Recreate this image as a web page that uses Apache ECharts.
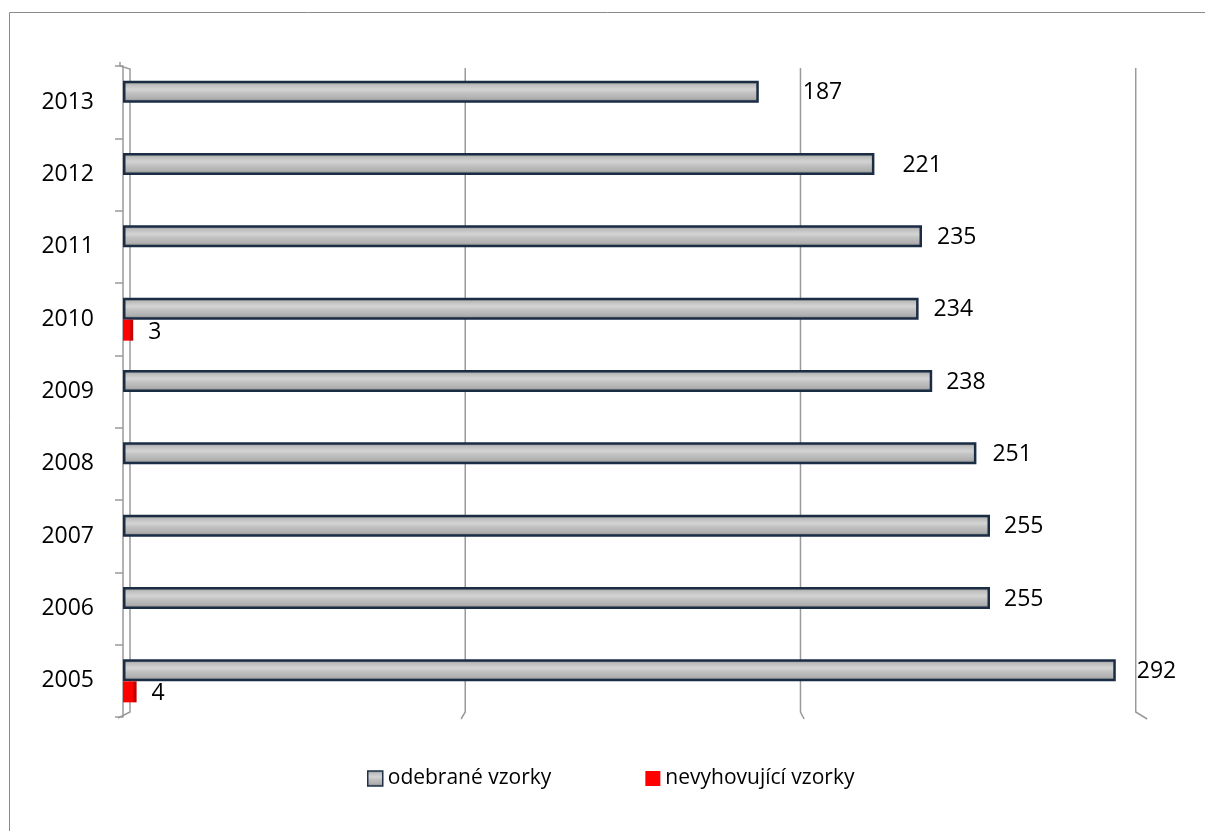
<!DOCTYPE html>
<html>
<head>
<meta charset="utf-8">
<script src="https://cdn.jsdelivr.net/npm/echarts@6/dist/echarts.min.js"></script>
<style>
html,body{margin:0;padding:0;background:#fff;}
#chart{width:1205px;height:831px;}
</style>
</head>
<body>
<div id="chart"></div>
<script>
// ---- data ----
var years = ['2005','2006','2007','2008','2009','2010','2011','2012','2013'];
var odebrane = [292, 255, 255, 251, 238, 234, 235, 221, 187];
var nevyhovujici = [4, 0, 0, 0, 0, 3, 0, 0, 0];
var xTicks = [0, 100, 200, 300];
var seriesNames = ['odebrané vzorky', 'nevyhovující vzorky'];

// ---- style (label gaps per bar, mimicking the original placement) ----
var grayLabelGap = [22, 15, 15, 17, 15, 16, 16, 29, 45];

var FONT = '"Open Sans", sans-serif';
var grayFill = new echarts.graphic.LinearGradient(0, 0, 0, 1, [
  {offset: 0, color: '#858585'},
  {offset: 0.18, color: '#bdbdbd'},
  {offset: 0.4, color: '#d4d4d4'},
  {offset: 0.55, color: '#c2c2c2'},
  {offset: 0.8, color: '#b0b0b0'},
  {offset: 1, color: '#808080'}
]);
var redFill = new echarts.graphic.LinearGradient(0, 0, 1, 0, [
  {offset: 0, color: '#ff0000'},
  {offset: 0.72, color: '#ff0000'},
  {offset: 0.74, color: '#d00000'},
  {offset: 1, color: '#b80000'}
]);

var chart = echarts.init(document.getElementById('chart'));
var option = {
  animation: false,
  backgroundColor: '#ffffff',
  grid: {left: 123, right: 62, top: 66, bottom: 114, containLabel: false},
  legend: {
    left: 367, top: 768, padding: 0,
    itemWidth: 15, itemHeight: 15, itemGap: 94,
    textStyle: {fontFamily: FONT, fontSize: 21, color: '#000'},
    data: [
      {name: seriesNames[0], icon: 'rect', itemStyle: {color: grayFill, borderColor: '#1f3147', borderWidth: 1.5}},
      {name: seriesNames[1], icon: 'rect', itemStyle: {color: '#ff0000', borderWidth: 0}}
    ]
  },
  xAxis: {
    type: 'value', min: xTicks[0], max: xTicks[xTicks.length - 1], interval: 100,
    axisLine: {show: false}, axisTick: {show: false}, axisLabel: {show: false},
    splitLine: {show: false}
  },
  yAxis: {
    type: 'category', data: years, offset: 3,
    axisLine: {show: true, lineStyle: {color: '#9a9a9a', width: 1.5}},
    axisTick: {show: true, length: 8, lineStyle: {color: '#9a9a9a', width: 1.5}},
    axisLabel: {fontFamily: FONT, fontSize: 23, color: '#000', margin: 26, padding: [4, 0, 0, 0]}
  },
  series: [
    {
      name: seriesNames[0], type: 'bar', barWidth: 22, barGap: '0%',
      itemStyle: {color: grayFill, borderColor: '#1b2d45', borderWidth: 2.5},
      label: {show: true, position: 'right', fontFamily: FONT, fontSize: 23, color: '#000', offset: [0, 1]},
      data: odebrane.map(function (v, i) {
        return {value: v, label: {distance: grayLabelGap[i] - 1}};
      })
    },
    {
      name: seriesNames[1], type: 'bar', barWidth: 21,
      itemStyle: {color: redFill},
      label: {
        show: true, position: 'right', distance: 15, fontFamily: FONT, fontSize: 23, color: '#000',
        offset: [0, 2],
        formatter: function (p) { return p.value ? String(p.value) : ''; }
      },
      data: nevyhovujici
    }
  ]
};
chart.setOption(option);

// ---- decorative perspective gridlines (derived from the axis scale) ----
var yTop = chart.convertToPixel({yAxisIndex: 0}, years[years.length - 1]);
var yBot = chart.convertToPixel({yAxisIndex: 0}, years[0]);
var half = (yBot - yTop) / (years.length - 1) / 2;
var gTop = yTop - half, gBot = yBot + half;
var x0 = chart.convertToPixel({xAxisIndex: 0}, 0);
var lineStyle = {stroke: '#9a9a9a', lineWidth: 1.5, fill: null};
var gfx = [];
xTicks.forEach(function (v) {
  var px = chart.convertToPixel({xAxisIndex: 0}, v);
  var back = 130 + (px - x0) * 0.986;
  var front = 118 + (px - x0) * 1.009;
  var pts;
  if (v === 0) {
    pts = [[px - 3, gTop - 4], [px - 3, gTop], [back, gTop + 3], [back, gBot - 5], [front, gBot + 1]];
  } else {
    pts = [[back, gTop + 2], [back, gBot - 5], [front, gBot + 2]];
  }
  gfx.push({type: 'polyline', silent: true, z: -1, shape: {points: pts}, style: lineStyle});
});
gfx.push({type: 'rect', silent: true, z: -2, shape: {x: 9.5, y: 12.5, width: 1210, height: 840},
  style: {stroke: '#8a8a8a', lineWidth: 1, fill: null}});
chart.setOption({graphic: gfx});
</script>
</body>
</html>
